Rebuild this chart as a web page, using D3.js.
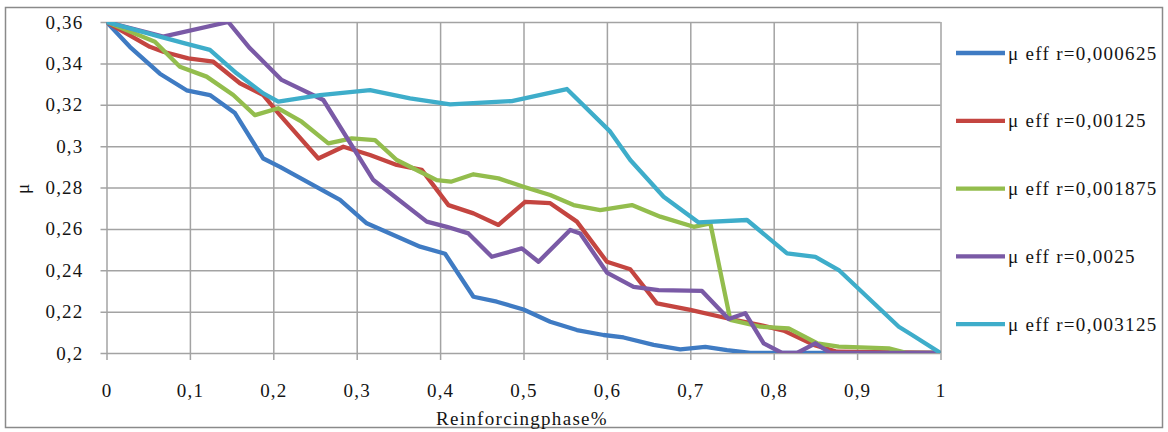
<!DOCTYPE html>
<html>
<head>
<meta charset="utf-8">
<script src="https://cdn.jsdelivr.net/npm/d3@7"></script>
<style>
	body { margin: 0; background: #ffffff; }
	svg { display: block; font-family: "Liberation Serif", "Times New Roman", serif; }
</style>
</head>
<body>
<svg id="chart" width="1168" height="432"></svg>
<script>
// Series labels and colours
var seriesNames = ["μ eff r=0,000625", "μ eff r=0,00125", "μ eff r=0,001875", "μ eff r=0,0025", "μ eff r=0,003125"];
var seriesColors = ["#3f7bc3", "#c44540", "#93bd4d", "#7a5aa6", "#3eadca"];

// Values, one x / y pair per series
var blueX = [0, 0.028, 0.064, 0.096, 0.124, 0.154, 0.188, 0.208, 0.280, 0.312, 0.376, 0.406, 0.44, 0.468, 0.50, 0.532, 0.564, 0.596, 0.62, 0.656, 0.688, 0.718, 0.744, 0.772, 1];
var blueY = [0.36, 0.348, 0.335, 0.327, 0.3247, 0.316, 0.294, 0.290, 0.274, 0.2627, 0.2514, 0.248, 0.2272, 0.2248, 0.221, 0.2151, 0.2111, 0.2087, 0.2075, 0.2039, 0.2018, 0.203, 0.2014, 0.2, 0.2];

var redX = [0, 0.052, 0.068, 0.098, 0.128, 0.16, 0.188, 0.208, 0.254, 0.284, 0.316, 0.348, 0.378, 0.41, 0.44, 0.47, 0.502, 0.532, 0.564, 0.600, 0.628, 0.66, 0.70, 0.744, 0.784, 0.812, 0.848, 0.876, 1];
var redY = [0.36, 0.348, 0.3456, 0.3424, 0.3408, 0.3304, 0.3247, 0.315, 0.294, 0.2997, 0.2957, 0.2909, 0.2885, 0.2715, 0.2675, 0.2619, 0.2731, 0.2724, 0.2635, 0.2441, 0.2405, 0.224, 0.2208, 0.2168, 0.2135, 0.2108, 0.2039, 0.2006, 0.2];

var greenX = [0, 0.058, 0.088, 0.12, 0.152, 0.178, 0.206, 0.234, 0.266, 0.294, 0.322, 0.348, 0.376, 0.396, 0.413, 0.44, 0.47, 0.50, 0.532, 0.56, 0.592, 0.63, 0.664, 0.704, 0.724, 0.748, 0.784, 0.818, 0.852, 0.878, 0.938, 0.96, 1];
var greenY = [0.36, 0.3505, 0.3384, 0.3336, 0.3247, 0.315, 0.3183, 0.3118, 0.3013, 0.3037, 0.3029, 0.2933, 0.2876, 0.2836, 0.2828, 0.2864, 0.2844, 0.2804, 0.2764, 0.2715, 0.2691, 0.2715, 0.2659, 0.261, 0.2627, 0.216, 0.2127, 0.2119, 0.2047, 0.2031, 0.2022, 0.2, 0.2];

var purpleX = [0, 0.068, 0.146, 0.172, 0.21, 0.26, 0.32, 0.384, 0.408, 0.434, 0.462, 0.498, 0.518, 0.556, 0.568, 0.60, 0.632, 0.662, 0.714, 0.746, 0.766, 0.788, 0.81, 0.828, 0.85, 0.868, 1];
var purpleY = [0.36, 0.3529, 0.36, 0.3473, 0.332, 0.3223, 0.2836, 0.2635, 0.261, 0.2578, 0.2465, 0.2506, 0.2441, 0.2595, 0.2578, 0.2389, 0.232, 0.2304, 0.23, 0.2164, 0.2192, 0.2047, 0.2, 0.2, 0.2047, 0.2, 0.2];

var cyanX = [0, 0.064, 0.094, 0.124, 0.156, 0.188, 0.206, 0.256, 0.316, 0.364, 0.412, 0.486, 0.552, 0.604, 0.628, 0.668, 0.71, 0.768, 0.816, 0.85, 0.878, 0.95, 0.966, 1];
var cyanY = [0.36, 0.3529, 0.3497, 0.3465, 0.3352, 0.3255, 0.3215, 0.3247, 0.3271, 0.3231, 0.3202, 0.3218, 0.3276, 0.307, 0.2933, 0.2755, 0.2631, 0.2643, 0.2482, 0.2465, 0.2401, 0.2127, 0.2087, 0.2];

// Tick values and axis titles
var xTicks = [0, 0.1, 0.2, 0.3, 0.4, 0.5, 0.6, 0.7, 0.8, 0.9, 1];
var yTicks = [0.2, 0.22, 0.24, 0.26, 0.28, 0.3, 0.32, 0.34, 0.36];
var xTitle = "Reinforcingphase%";
var yTitle = "μ";

var seriesX = [blueX, redX, greenX, purpleX, cyanX];
var seriesY = [blueY, redY, greenY, purpleY, cyanY];

var svg = d3.select("#chart");

// outer frame
svg.append("rect")
	.attr("x", 5.5).attr("y", 7.5)
	.attr("width", 1157).attr("height", 420)
	.attr("fill", "#ffffff")
	.attr("stroke", "#8a8a8a")
	.attr("stroke-width", 1.5);

// plot area edges (in pixels)
var plotLeft = 106.5, plotRight = 940.5, plotTop = 22, plotBottom = 353;

var x = d3.scaleLinear().domain([0, 1]).range([plotLeft, plotRight]);
var y = d3.scaleLinear().domain([0.2, 0.36]).range([plotBottom, plotTop]);

function commaFormat(d) { return String(+d.toFixed(2)).replace(".", ","); }

// Horizontal grid + y tick labels
svg.append("g")
	.attr("transform", "translate(" + (plotLeft - 6) + ",0)")
	.call(d3.axisLeft(y)
		.tickValues(yTicks)
		.tickSizeInner(-(plotRight - plotLeft + 6))
		.tickSizeOuter(0)
		.tickPadding(17)
		.tickFormat(commaFormat));

// Vertical grid + x tick labels
svg.append("g")
	.attr("transform", "translate(0," + (plotBottom + 7) + ")")
	.call(d3.axisBottom(x)
		.tickValues(xTicks)
		.tickSizeInner(-(plotBottom + 7 - plotTop))
		.tickSizeOuter(0)
		.tickPadding(24)
		.tickFormat(commaFormat));

svg.selectAll(".domain").remove();
svg.selectAll(".tick line")
	.attr("stroke", "#a3a3a3")
	.attr("stroke-width", 1.5);
svg.selectAll(".tick text")
	.style("font-size", "19px")
	.style("letter-spacing", "1.2px")
	.style("font-family", "'Liberation Serif', 'Times New Roman', serif")
	.attr("fill", "#141414");

// axis titles
svg.append("text")
	.attr("x", 522).attr("y", 425)
	.attr("text-anchor", "middle")
	.style("font-size", "19px")
	.style("letter-spacing", "1.3px")
	.attr("fill", "#141414")
	.text(xTitle);

svg.append("text")
	.attr("transform", "translate(29,189) rotate(-90)")
	.attr("text-anchor", "middle")
	.style("font-size", "19px")
	.attr("fill", "#141414")
	.text(yTitle);

// clip to plot area
svg.append("clipPath").attr("id", "plot-clip")
	.append("rect")
		.attr("x", plotLeft).attr("y", plotTop)
		.attr("width", plotRight - plotLeft).attr("height", plotBottom - plotTop);

var line = d3.line()
	.x(function(d) { return x(d[0]); })
	.y(function(d) { return y(d[1]); });

var plot = svg.append("g").attr("clip-path", "url(#plot-clip)");
for (var i = 0; i < seriesNames.length; i++) {
	var pts = d3.zip(seriesX[i], seriesY[i]);
	plot.append("path")
		.datum(pts)
		.attr("d", line)
		.attr("fill", "none")
		.attr("stroke", seriesColors[i])
		.attr("stroke-width", 4.3)
		.attr("stroke-linejoin", "round")
		.attr("stroke-linecap", "round");
}

// Legend
var legend = svg.append("g");
for (var i = 0; i < seriesNames.length; i++) {
	var ly = 53 + i * 67.8;
	legend.append("line")
		.attr("x1", 956).attr("x2", 1005)
		.attr("y1", ly).attr("y2", ly)
		.attr("stroke", seriesColors[i])
		.attr("stroke-width", 4.3);
	legend.append("text")
		.attr("x", 1008).attr("y", ly + 6.5)
		.style("font-size", "19px")
		.style("letter-spacing", "1.3px")
		.attr("fill", "#141414")
		.text(seriesNames[i]);
}
</script>
</body>
</html>
